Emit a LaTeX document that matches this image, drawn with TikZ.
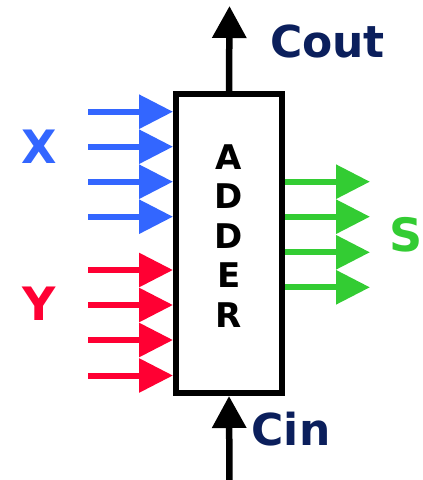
\documentclass[tikz,border=0pt]{standalone}
\usepackage{fontspec}
\setmainfont{DejaVu Sans}
\usetikzlibrary{arrows.meta,positioning}
\definecolor{xblue}{HTML}{3366FF}
\definecolor{yred}{HTML}{FF0033}
\definecolor{sgreen}{HTML}{33CC33}
\definecolor{carry}{HTML}{0B1F5C}

\begin{document}
\begin{tikzpicture}[x=1pt, y=-1pt,
  adder/.style={rectangle, draw, line width=6pt, minimum width=106pt, minimum height=299pt, inner sep=0pt},
  bus/.style={-{Triangle[length=34pt, width=33pt]}, line width=6pt},
  carryarr/.style={-{Triangle[length=32pt, width=33pt]}, line width=6.5pt, black},
  lbl/.style={font=\fontsize{46}{50}\selectfont\bfseries},
  clbl/.style={font=\fontsize{44}{48}\selectfont\bfseries, text=carry}
]
  \useasboundingbox (0,0) rectangle (423,480);

  \node[adder] (box) at (229,243.5) {};
  \node[align=center, font=\fontsize{34}{39.5}\selectfont\bfseries] (name) at (229,236) {A\\D\\D\\E\\R};

  % inputs X
  \coordinate (x1) at (88,111.7);
  \coordinate (x2) at (88,146.7);
  \coordinate (x3) at (88,181.7);
  \coordinate (x4) at (88,216.7);
  \draw[bus, xblue] (x1) -- (x1 -| box.west);
  \draw[bus, xblue] (x2) -- (x2 -| box.west);
  \draw[bus, xblue] (x3) -- (x3 -| box.west);
  \draw[bus, xblue] (x4) -- (x4 -| box.west);
  \node[lbl, text=xblue] (xlabel) at (39,146.3) {X};

  % inputs Y
  \coordinate (y1) at (88,270);
  \coordinate (y2) at (88,305);
  \coordinate (y3) at (88,340);
  \coordinate (y4) at (88,375.5);
  \draw[bus, yred] (y1) -- (y1 -| box.west);
  \draw[bus, yred] (y2) -- (y2 -| box.west);
  \draw[bus, yred] (y3) -- (y3 -| box.west);
  \draw[bus, yred] (y4) -- (y4 -| box.west);
  \node[lbl, text=yred] (ylabel) at (39,304) {Y};

  % outputs S
  \coordinate (s1) at (370,181.7);
  \coordinate (s2) at (370,216.7);
  \coordinate (s3) at (370,252.3);
  \coordinate (s4) at (370,287.3);
  \draw[bus, sgreen] (s1 -| box.east) -- (s1);
  \draw[bus, sgreen] (s2 -| box.east) -- (s2);
  \draw[bus, sgreen] (s3 -| box.east) -- (s3);
  \draw[bus, sgreen] (s4 -| box.east) -- (s4);
  \node[lbl, text=sgreen] (slabel) at (406,235) {S};

  % carries
  \coordinate (cout) at (229.5,6);
  \coordinate (cin) at (229.5,482);
  \draw[carryarr] (box.north) -- (cout);
  \draw[carryarr] (cin) -- (box.south);
  \node[clbl] (coutlabel) at (327.5,41) {Cout};
  \node[clbl] (cinlabel) at (291,429) {Cin};
\end{tikzpicture}
\end{document}
